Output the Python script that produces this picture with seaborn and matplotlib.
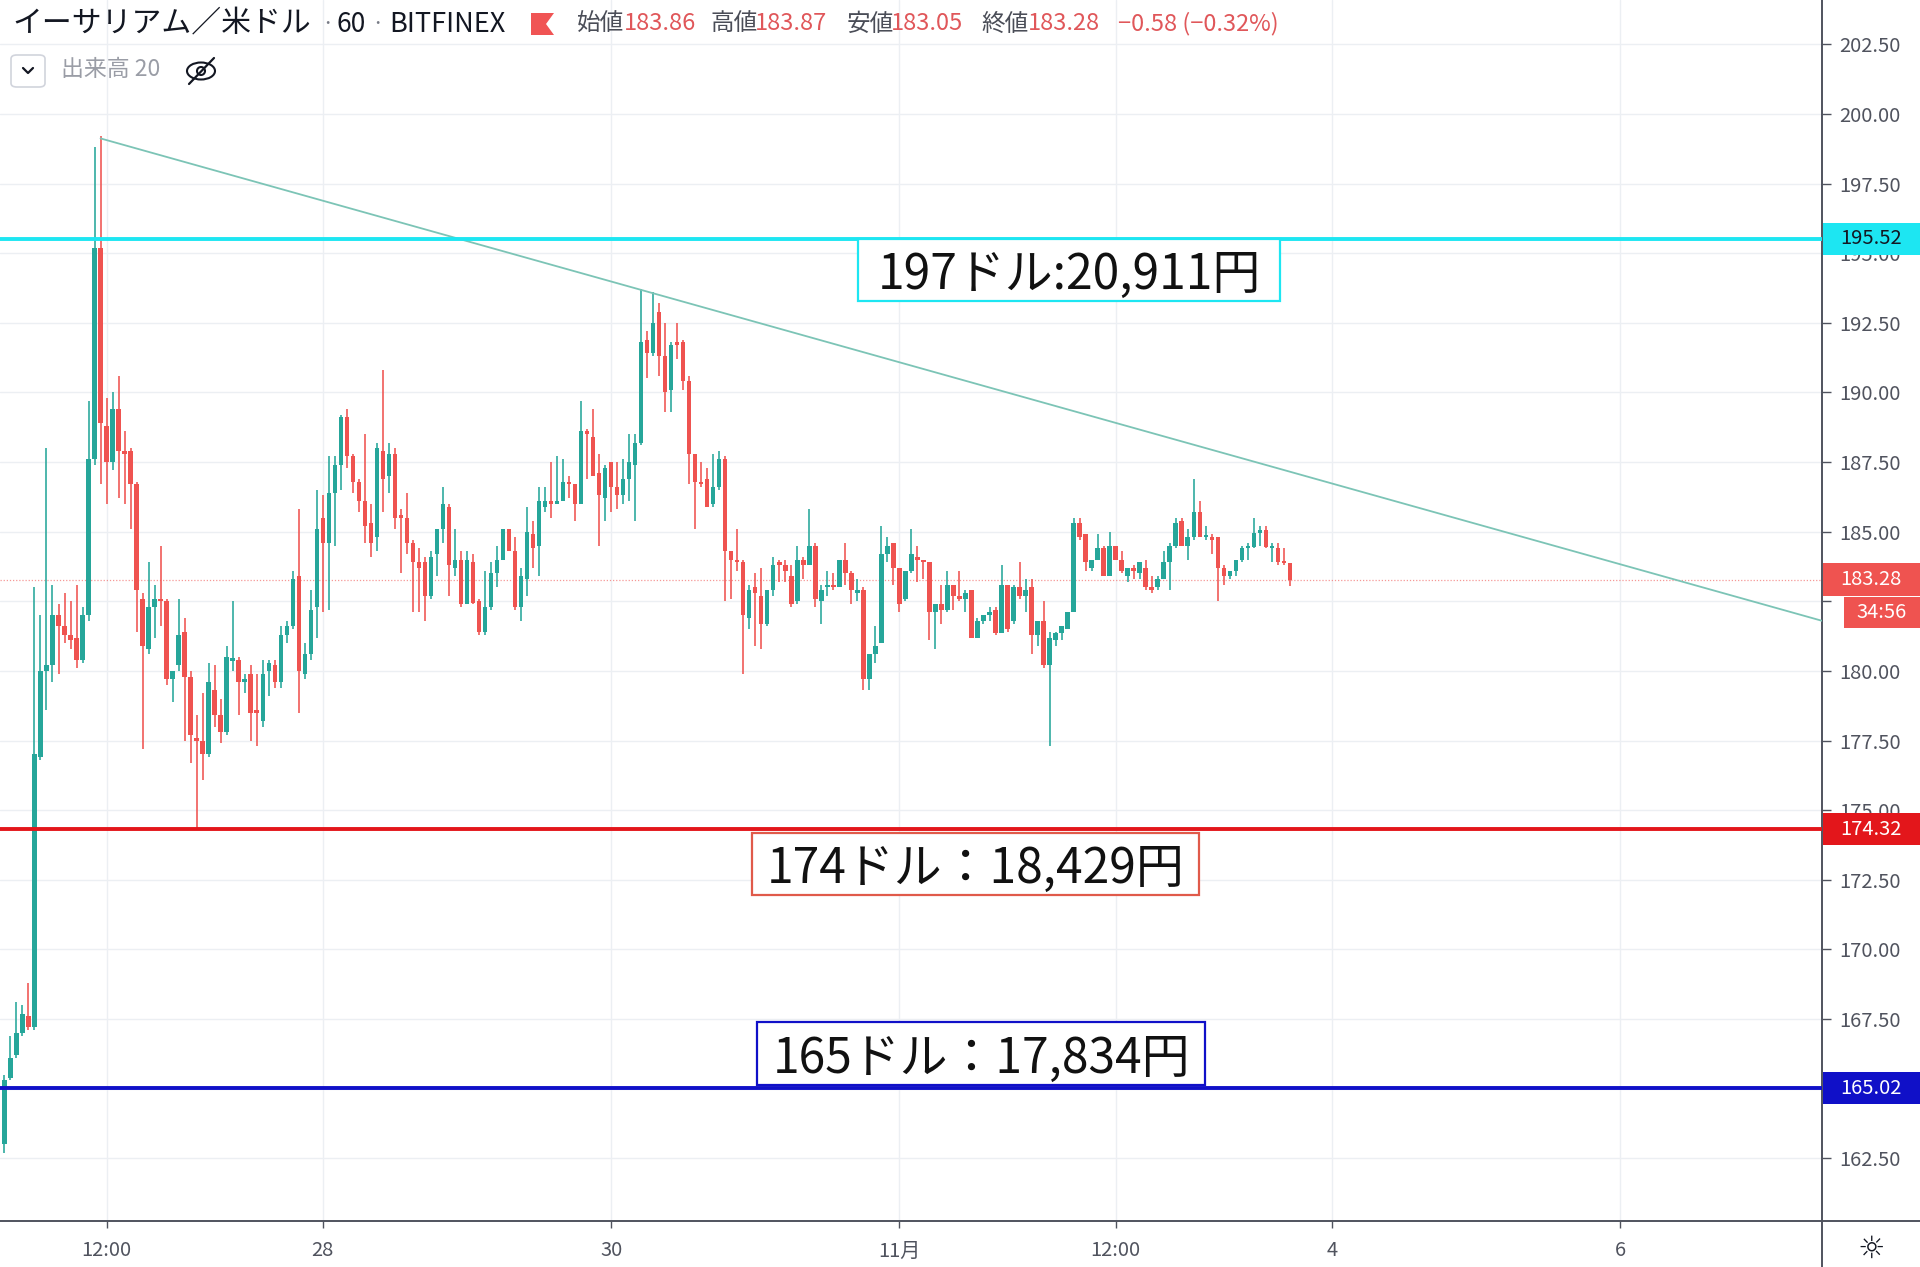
import numpy as np
import pandas as pd
import matplotlib
matplotlib.use("Agg")
import matplotlib.pyplot as plt
import matplotlib.transforms as mtrans
from matplotlib.patches import Rectangle, Polygon, FancyBboxPatch, Ellipse
from matplotlib.lines import Line2D
import seaborn as sns

# ---------------- data (hourly OHLC, ETH/USD Bitfinex) ----------------
start_time = "2019-10-25 19:00"
ref_time = "2019-10-26 12:00"

opens = [
    163.0, 165.4, 166.2, 167.0, 167.6, 167.2, 176.9, 180.0, 180.2, 182.0,
    181.6, 181.3, 181.2, 180.4, 182.0, 187.6, 195.2, 188.8, 187.5, 189.4,
    187.9, 187.9, 186.7, 182.6, 180.8, 182.3, 182.6, 182.5, 179.7, 180.2,
    181.4, 179.8, 177.6, 177.5, 177.0, 179.3, 178.4, 177.8, 180.35, 180.4,
    179.6, 179.9, 178.6, 178.2, 180.0, 180.2, 179.6, 181.3, 181.6, 183.4,
    179.9, 180.6, 182.3, 185.5, 184.6, 186.4, 187.4, 189.1, 187.7, 186.8,
    186.1, 185.3, 184.8, 187.9, 187.0, 187.8, 185.6, 185.5, 184.6, 183.9,
    183.9, 182.7, 184.2, 185.1, 185.9, 183.7, 184.0, 182.4, 183.9, 182.5,
    181.4, 182.3, 183.5, 184.0, 185.1, 184.3, 182.3, 183.3, 184.9, 184.5,
    185.9, 186.1, 186.0, 186.1, 186.8, 186.7, 186.0, 188.6, 188.4, 187.1,
    186.2, 187.5, 186.6, 186.3, 186.9, 187.4, 188.2, 191.9, 191.4, 192.9,
    191.3, 190.1, 191.8, 191.8, 190.4, 187.8, 186.8, 186.9, 186.0, 186.6,
    187.6, 184.3, 184.0, 183.9, 181.9, 183.0, 182.7, 181.7, 182.9, 183.9,
    183.8, 183.4, 182.5, 184.0, 183.8, 184.5, 182.5, 183.0, 183.1, 183.0,
    184.0, 183.5, 182.8, 182.9, 179.7, 180.6, 181.0, 184.2, 184.6, 183.7,
    182.6, 183.6, 184.1, 184.0, 183.9, 182.1, 182.4, 182.2, 183.1, 182.7,
    182.6, 182.9, 181.2, 181.8, 182.0, 182.2, 181.35, 183.1, 181.8, 183.0,
    182.7, 183.0, 181.3, 181.8, 180.2, 181.1, 181.35, 181.5, 182.1, 185.3,
    184.9, 183.7, 184.0, 184.4, 183.4, 184.5, 184.0, 183.4, 183.7, 183.5,
    183.7, 183.0, 183.0, 183.3, 183.9, 184.5, 185.4, 184.5, 184.8, 185.7,
    184.8, 184.8, 184.8, 183.7, 183.4, 183.6, 184.0, 184.4, 184.45, 184.95,
    185.05, 184.4, 184.4, 183.9, 183.86,
]
highs = [
    165.5, 166.9, 168.1, 168.0, 168.8, 183.0, 182.0, 188.0, 183.1, 182.4,
    182.8, 182.5, 183.1, 182.3, 189.7, 198.8, 199.2, 189.8, 190.0, 190.6,
    188.6, 188.0, 186.8, 182.8, 183.9, 183.1, 184.5, 182.6, 180.0, 182.6,
    181.9, 180.0, 178.4, 179.2, 180.3, 180.2, 179.0, 180.9, 182.5, 180.5,
    179.9, 180.2, 179.9, 180.4, 180.4, 180.4, 181.6, 181.8, 183.6, 185.8,
    181.0, 182.9, 186.5, 186.3, 187.7, 187.7, 189.2, 189.4, 187.8, 186.9,
    188.5, 186.0, 188.2, 190.8, 188.2, 188.0, 185.8, 186.4, 184.7, 184.4,
    184.1, 184.3, 185.1, 186.6, 186.0, 185.1, 184.3, 184.3, 184.2, 182.6,
    183.6, 183.9, 184.5, 185.1, 185.1, 184.8, 183.7, 185.9, 185.4, 186.6,
    186.6, 187.5, 187.7, 187.6, 187.0, 186.7, 189.7, 188.7, 189.4, 187.8,
    187.4, 187.5, 187.5, 187.6, 188.5, 188.5, 193.7, 192.2, 193.6, 193.2,
    192.5, 191.8, 192.5, 191.9, 190.6, 187.8, 187.5, 187.3, 187.8, 187.9,
    187.7, 184.3, 185.1, 184.0, 183.1, 183.5, 183.7, 182.9, 184.1, 184.0,
    184.0, 183.8, 184.5, 184.1, 185.8, 184.6, 183.1, 183.6, 183.5, 184.0,
    184.6, 183.6, 183.3, 183.0, 180.6, 181.6, 185.2, 184.8, 184.6, 183.7,
    183.6, 185.1, 184.5, 184.0, 183.9, 182.4, 183.1, 183.6, 183.1, 183.6,
    182.9, 182.9, 181.9, 182.0, 182.3, 182.3, 183.8, 183.1, 183.1, 183.9,
    183.3, 183.3, 181.8, 182.5, 181.4, 181.4, 181.6, 182.1, 185.5, 185.5,
    184.9, 184.0, 184.9, 184.5, 185.0, 184.5, 184.3, 183.7, 183.8, 183.9,
    184.0, 183.4, 183.4, 184.3, 184.6, 185.5, 185.5, 185.1, 186.9, 186.1,
    185.2, 184.9, 184.8, 183.8, 183.6, 184.0, 184.5, 184.6, 185.5, 185.2,
    185.2, 184.6, 184.6, 184.4, 183.87,
]
lows = [
    162.7, 165.3, 166.1, 166.9, 167.1, 167.1, 176.8, 178.6, 179.6, 179.9,
    181.0, 180.8, 180.1, 180.3, 181.8, 187.4, 186.7, 186.0, 187.2, 186.2,
    186.0, 185.1, 181.4, 177.2, 180.6, 181.2, 181.6, 179.5, 178.9, 180.0,
    177.5, 176.7, 174.3, 176.1, 176.9, 178.0, 177.4, 177.7, 180.0, 178.4,
    179.2, 177.5, 177.3, 178.0, 179.1, 179.4, 179.4, 181.0, 181.5, 178.5,
    179.7, 180.4, 181.2, 182.1, 182.2, 184.5, 186.5, 187.3, 186.4, 185.7,
    184.6, 184.1, 184.3, 185.7, 186.4, 185.1, 183.5, 184.2, 182.1, 182.1,
    181.8, 182.6, 183.4, 184.6, 182.7, 183.4, 182.3, 182.4, 182.4, 181.3,
    181.3, 182.2, 183.0, 184.0, 184.3, 182.2, 181.8, 182.7, 183.7, 183.4,
    185.7, 185.5, 186.0, 186.1, 186.2, 185.4, 186.0, 186.9, 187.0, 184.5,
    185.4, 185.7, 185.8, 186.0, 186.1, 185.4, 188.1, 190.5, 191.3, 190.6,
    189.3, 189.3, 191.2, 190.1, 186.7, 185.1, 186.6, 185.9, 185.9, 186.5,
    182.5, 182.6, 183.6, 179.9, 181.5, 180.9, 180.8, 181.6, 182.7, 183.2,
    183.2, 182.3, 182.4, 183.3, 183.8, 182.3, 181.7, 182.7, 182.9, 183.0,
    183.1, 182.4, 182.5, 179.3, 179.3, 180.3, 181.0, 183.9, 183.1, 182.1,
    182.5, 183.5, 183.2, 183.3, 181.1, 180.8, 181.7, 182.1, 182.2, 182.5,
    182.1, 181.2, 181.2, 181.7, 181.8, 181.3, 181.35, 181.4, 181.7, 182.6,
    182.1, 180.6, 180.9, 180.1, 177.3, 180.9, 181.1, 181.5, 182.1, 184.7,
    183.6, 183.6, 184.0, 183.4, 183.4, 184.0, 183.5, 183.2, 183.3, 183.3,
    182.9, 182.8, 182.9, 183.3, 182.9, 184.4, 184.5, 184.0, 184.7, 184.8,
    184.7, 184.2, 182.5, 183.1, 183.3, 183.4, 183.9, 184.0, 184.4, 184.5,
    184.4, 183.9, 183.8, 183.8, 183.05,
]
closes = [
    165.3, 166.1, 167.0, 167.7, 167.2, 177.0, 180.0, 180.2, 182.0, 181.6,
    181.3, 181.1, 180.4, 182.0, 187.6, 195.2, 188.9, 187.5, 189.4, 187.9,
    187.8, 186.7, 182.9, 180.9, 182.3, 182.6, 182.5, 179.7, 180.0, 181.3,
    179.8, 177.7, 177.5, 177.0, 179.6, 178.4, 177.8, 180.5, 180.45, 179.6,
    179.7, 178.5, 178.5, 179.9, 180.3, 179.6, 181.3, 181.6, 183.3, 180.0,
    180.6, 182.2, 185.1, 184.6, 186.4, 187.4, 189.1, 187.7, 186.8, 186.1,
    185.2, 184.6, 188.0, 186.9, 187.8, 185.5, 185.5, 184.6, 183.9, 183.7,
    182.7, 184.1, 185.1, 186.0, 183.8, 184.0, 182.4, 184.0, 182.45, 181.4,
    182.3, 183.5, 184.0, 185.1, 184.3, 182.3, 183.4, 185.0, 184.4, 186.1,
    186.1, 186.0, 186.1, 186.8, 186.7, 186.0, 188.6, 188.5, 187.0, 186.3,
    187.3, 186.6, 186.3, 186.9, 187.5, 188.2, 191.8, 191.4, 192.5, 191.3,
    190.0, 191.7, 191.7, 190.4, 187.8, 186.8, 186.7, 185.9, 186.6, 187.6,
    184.3, 184.0, 183.9, 182.0, 182.9, 182.8, 181.7, 182.9, 183.8, 183.8,
    183.6, 182.4, 184.0, 183.8, 184.5, 182.6, 182.9, 183.1, 183.0, 184.0,
    183.5, 182.9, 182.9, 179.7, 180.6, 180.9, 184.2, 184.5, 183.7, 182.4,
    183.6, 184.2, 184.0, 183.9, 182.1, 182.4, 182.2, 183.1, 182.7, 182.6,
    182.8, 181.2, 181.8, 182.0, 182.1, 181.35, 183.1, 181.5, 183.0, 182.7,
    182.9, 181.3, 181.8, 180.2, 181.2, 181.35, 181.6, 182.1, 185.3, 184.8,
    183.9, 184.0, 184.4, 183.4, 184.5, 184.0, 183.6, 183.7, 183.6, 183.9,
    183.0, 182.9, 183.3, 183.9, 184.5, 185.3, 184.5, 184.8, 185.7, 184.8,
    184.85, 184.7, 183.7, 183.4, 183.6, 184.0, 184.4, 184.45, 184.95, 185.05,
    184.45, 184.5, 183.9, 183.86, 183.28,
]

tick_times = ["2019-10-26 12:00", "2019-10-28 00:00", "2019-10-30 00:00",
              "2019-11-01 00:00", "2019-11-02 12:00", "2019-11-04 00:00",
              "2019-11-06 00:00"]
tick_labels = ["12:00", "28", "30", "11月", "12:00", "4", "6"]
price_ticks = [162.5, 165.0, 167.5, 170.0, 172.5, 175.0, 177.5, 180.0, 182.5,
               185.0, 187.5, 190.0, 192.5, 195.0, 197.5, 200.0, 202.5]
hidden_price_ticks = [182.5, 165.0]

level_values = [195.52, 174.32, 165.02]
level_colors = ["#1de6f2", "#e3161b", "#1010c8"]
level_text_colors = ["#131722", "white", "white"]
last_price = 183.28
countdown = "34:56"

trend_times = ["2019-10-26 11:00", "2019-11-07 09:36"]
trend_prices = [199.12, 181.8]

notes = ["197ドル:20,911円", "174ドル：18,429円", "165ドル：17,834円"]
note_edge = ["#1de6f2", "#e05a4a", "#1010c8"]

title = "イーサリアム／米ドル"
interval = "60"
exchange = "BITFINEX"
ohlc_names = ["始値", "高値", "安値", "終値"]
ohlc_vals = ["183.86", "183.87", "183.05", "183.28"]
change_txt = "−0.58 (−0.32%)"
volume_txt = "出来高 20"

# ---------------- styling ----------------
sns.set_theme(style="white")
plt.rcParams["font.family"] = ["Noto Sans CJK JP", "DejaVu Sans"]
plt.rcParams["axes.unicode_minus"] = False

UP, DOWN = "#26a69a", "#ef5350"
AXC = "#50535e"
TICK_FS = 14.5

W, H = 1920, 1267
fig = plt.figure(figsize=(W / 100, H / 100), dpi=100)
fig.patch.set_facecolor("white")
ax = fig.add_axes([0, 46 / H, 1822 / W, 1221 / H])
ax.set_facecolor("white")


def hours(ts):
    return ((pd.DatetimeIndex(ts) - pd.Timestamp(ref_time)) / pd.Timedelta(hours=1)).to_numpy()


n = len(opens)
x = hours(pd.date_range(start_time, periods=n, freq="h"))
o = np.array(opens); hi = np.array(highs); lo = np.array(lows); c = np.array(closes)
cols = np.where(c >= o, UP, DOWN)

ax.vlines(x, lo, hi, colors=cols, lw=1.15, zorder=2)
bottom = np.minimum(o, c)
height = np.maximum(np.abs(c - o), 0.07)
ax.bar(x, height, bottom=bottom, width=0.74, color=cols, linewidth=0, zorder=2.1)

# trend line
sns.lineplot(x=hours(trend_times), y=trend_prices, ax=ax, color="#7cc4b6",
             lw=1.3, zorder=3, estimator=None, sort=False)

# level lines
for v, col in zip(level_values, level_colors):
    ax.axhline(v, color=col, lw=2.8, zorder=4)
ax.axhline(last_price, color=DOWN, lw=0.9, ls=(0, (1, 1.5)), alpha=0.6, zorder=1.5)

# annotation boxes
box_specs = [(125.1, 193.28, 70.3, 2.23), (107.5, 171.96, 74.4, 2.22), (108.3, 165.13, 74.6, 2.26)]
for (bx, by, bw, bh), txt, ec in zip(box_specs, notes, note_edge):
    ax.add_patch(Rectangle((bx, by), bw, bh, facecolor="white", edgecolor=ec, lw=1.6, zorder=6))
    ax.text(bx + bw / 2, by + bh / 2, txt, ha="center", va="center_baseline",
            fontsize=34.5, color="#111111", zorder=7)

# axes formatting
ax.set_xlim(-17.74, 285.6)
ax.set_ylim(160.25, 204.09)
ax.set_xticks(hours(tick_times))
ax.set_xticklabels(tick_labels)
ax.set_yticks(price_ticks)
ax.set_yticklabels(["" if v in hidden_price_ticks else f"{v:.2f}" for v in price_ticks])
ax.yaxis.tick_right()
ax.grid(True, color="#eceff3", lw=1, zorder=0)
ax.set_axisbelow(True)
for s in ["left", "top"]:
    ax.spines[s].set_visible(False)
for s in ["right", "bottom"]:
    ax.spines[s].set_visible(True)
    ax.spines[s].set_color(AXC)
    ax.spines[s].set_linewidth(1.4)
ax.tick_params(axis="y", direction="out", length=6.5, width=1, color=AXC,
               labelsize=TICK_FS, labelcolor=AXC, pad=6, right=True, left=False)
ax.tick_params(axis="x", direction="out", length=5, width=1, color=AXC,
               labelsize=TICK_FS, labelcolor=AXC, pad=9, bottom=True)

# right price labels
trans = mtrans.blended_transform_factory(fig.transFigure, ax.transData)
for v, col, tc in zip(level_values, level_colors, level_text_colors):
    fig.add_artist(Rectangle((1823 / W, v - 0.57), 97 / W, 1.14, transform=trans,
                             facecolor=col, edgecolor="none", zorder=20))
    fig.text(1871 / W, v, f"{v:.2f}", transform=trans, ha="center", va="center",
             fontsize=TICK_FS, color=tc, zorder=21)
fig.add_artist(Rectangle((1823 / W, last_price - 0.58), 97 / W, 1.16, transform=trans,
                         facecolor=DOWN, edgecolor="none", zorder=20))
fig.text(1871 / W, last_price, f"{last_price:.2f}", transform=trans, ha="center",
         va="center", fontsize=TICK_FS, color="white", zorder=21)
fig.add_artist(Rectangle((1844 / W, last_price - 1.75), 76 / W, 1.12, transform=trans,
                         facecolor=DOWN, edgecolor="none", zorder=20))
fig.text(1882 / W, last_price - 1.19, countdown, transform=trans, ha="center",
         va="center", fontsize=TICK_FS, color="white", zorder=21)

# bottom-right corner
fig.add_artist(Line2D([1822 / W, 1822 / W], [0, 46 / H], transform=fig.transFigure, color=AXC, lw=1.4))
fig.add_artist(Line2D([1822 / W, 1], [46 / H, 46 / H], transform=fig.transFigure, color=AXC, lw=1.4))
fig.text(1871 / W, 1 - 1249 / H, "☼", ha="center", va="center", fontsize=22,
         color="#131722", family="DejaVu Sans")


# ---------------- header ----------------
def fx(px):
    return px / W


def fy(py):
    return 1 - py / H


DARK = "#131722"
LBL = "#4a4d57"
VALC = "#e0575a"
fig.text(fx(12), fy(24), title, fontsize=21.5, color=DARK, va="center", ha="left")
fig.text(fx(328), fy(24), "·", fontsize=16, color="#787b86", va="center", ha="center")
fig.text(fx(337), fy(24), interval, fontsize=19, color=DARK, va="center", ha="left")
fig.text(fx(377), fy(24), "·", fontsize=16, color="#787b86", va="center", ha="center")
fig.text(fx(389), fy(24), exchange, fontsize=19.5, color=DARK, va="center", ha="left")
fig.add_artist(Polygon([[fx(531), fy(13)], [fx(554), fy(13)], [fx(546), fy(24)],
                        [fx(554), fy(35)], [fx(531), fy(35)]], closed=True,
                       transform=fig.transFigure, facecolor="#f05454", edgecolor="none"))
name_x = [577, 711, 847, 981]
val_x = [624, 755, 891, 1028]
for nm, vv, nx, vx in zip(ohlc_names, ohlc_vals, name_x, val_x):
    fig.text(fx(nx), fy(24), nm, fontsize=17, color=LBL, va="center", ha="left")
    fig.text(fx(vx), fy(24), vv, fontsize=17, color=VALC, va="center", ha="left")
fig.text(fx(1118), fy(24), change_txt, fontsize=17, color=VALC, va="center", ha="left")

# second row: collapse button, volume label, hidden eye icon
fig.add_artist(FancyBboxPatch((fx(11), fy(87)), 34 / W, 32 / H,
                              boxstyle="round,pad=0,rounding_size=0.003",
                              transform=fig.transFigure, facecolor="white",
                              edgecolor="#d1d4dc", lw=1.2))
fig.add_artist(Line2D([fx(23), fx(28), fx(33)], [fy(68), fy(73), fy(68)],
                      transform=fig.transFigure, color=DARK, lw=1.6))
fig.text(fx(61), fy(70), volume_txt, fontsize=16.5, color="#9a9da6", va="center", ha="left")
fig.add_artist(Ellipse((fx(201), fy(71)), 28 / W, 17 / H, transform=fig.transFigure,
                       facecolor="none", edgecolor=DARK, lw=1.5))
fig.add_artist(Ellipse((fx(201), fy(71)), 8 / W, 8 / H, transform=fig.transFigure,
                       facecolor="none", edgecolor=DARK, lw=1.5))
fig.add_artist(Line2D([fx(189), fx(214)], [fy(84), fy(58)], transform=fig.transFigure,
                      color=DARK, lw=1.6))

fig.savefig("out.png", dpi=100, facecolor="white")
